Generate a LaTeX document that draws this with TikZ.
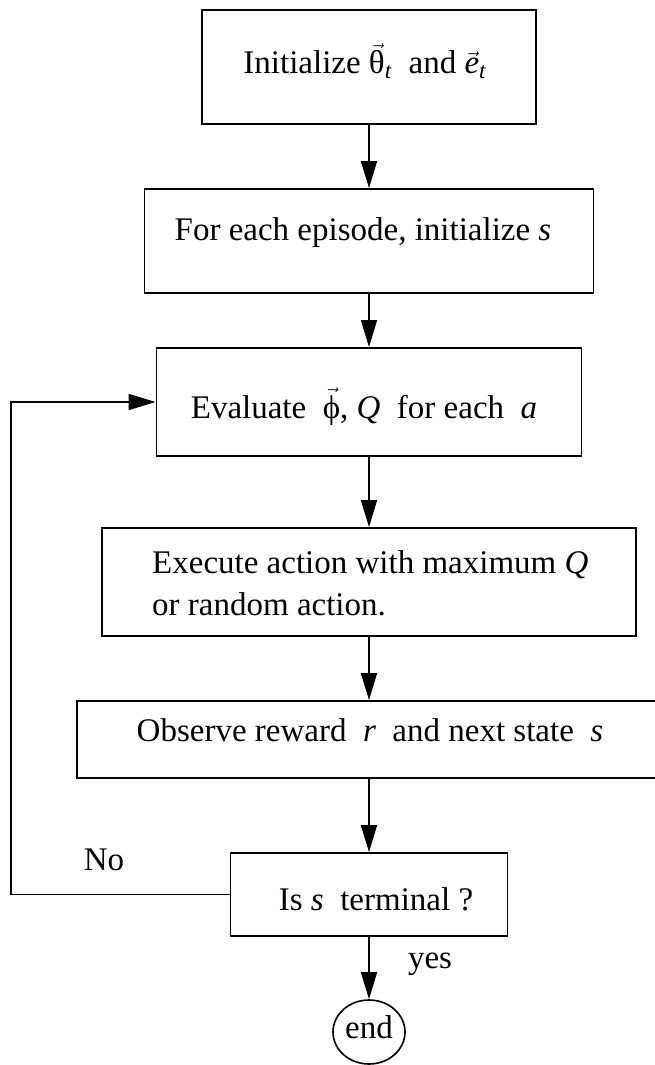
\documentclass[tikz,border=0pt]{standalone}
\usepackage{fontspec}
\setmainfont{Liberation Serif}
\usetikzlibrary{arrows.meta,shapes.geometric}
% symbol with a vector arrow above it
\newcommand{\vsym}[1]{$\vec{\hbox{#1}}$}
\begin{document}
\begin{tikzpicture}[x=1pt,y=-1pt,
  box/.style={draw,line width=1.8pt,rectangle,inner sep=0pt},
  lbl/.style={inner sep=0pt,anchor=base,font=\fontsize{33}{40}\selectfont},
  arr/.style={line width=1.4pt,-{Triangle[length=27pt,width=16pt]}}]
\useasboundingbox (0,0) rectangle (655,1065);

% process boxes
\node[box,minimum width=334pt,minimum height=114pt] (b1) at (369,67) {};
\node[box,minimum width=449pt,minimum height=104pt] (b2) at (369,241) {};
\node[box,minimum width=425pt,minimum height=108pt] (b3) at (369,402) {};
\node[box,minimum width=534pt,minimum height=108pt] (b4) at (369,582) {};
\node[box,minimum width=584pt,minimum height=77pt]  (b5) at (369,739.5) {};
\node[box,minimum width=277pt,minimum height=83pt]  (b6) at (369,894.5) {};
\node[draw,ellipse,line width=1.6pt,inner sep=0pt,minimum width=72pt,minimum height=64pt] (stop) at (369,1032) {};

% box texts
\node[lbl] (t1) at (365,74) {Initialize \vsym{θ}\textsubscript{\textit{t}}\ \ and \vsym{\textit{e}}\textsubscript{\textit{t}}};
\node[lbl] (t2) at (363,240) {For each episode, initialize \textit{s}};
\node[lbl] (t3) at (364,418) {Evaluate \ \vsym{ϕ}, \textit{Q} \ for each \ \textit{a}};
\node[lbl,anchor=base west] (t4a) at (152,573) {Execute action with maximum \textit{Q}};
\node[lbl,anchor=base west] (t4b) at (152,615) {or random action.};
\node[lbl] (t5) at (370,741) {Observe reward \ \textit{r} \ and next state \ \textit{s}};
\node[lbl] (t6) at (376,910) {Is \textit{s} \ terminal ?};
\node[lbl] (t7) at (369,1038) {end};

% branch labels
\node[lbl] (no) at (104,870) {No};
\node[lbl] (yes) at (430,968) {yes};

% connectors
\draw[arr] (b1.south) -- (b2.north);
\draw[arr] (b2.south) -- (b3.north);
\draw[arr] (b3.south) -- (b4.north);
\draw[arr] (b4.south) -- (b5.north);
\draw[arr] (b5.south) -- (b6.north);
\draw[arr] (b6.south) -- (stop.north);
\coordinate (loop) at (11,894.5);
\draw[arr] (b6.west) -- (loop) |- (b3.west);
\end{tikzpicture}
\end{document}
